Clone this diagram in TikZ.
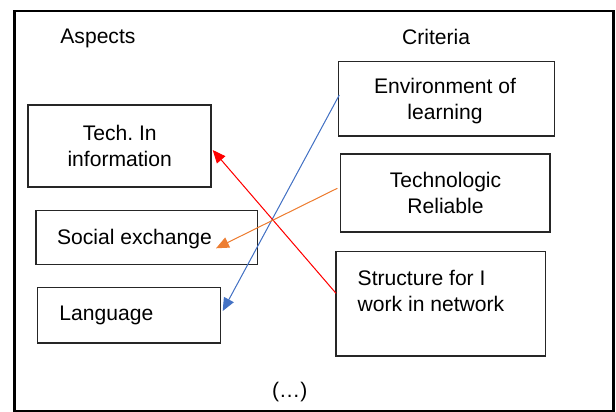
\documentclass[tikz,border=0pt]{standalone}
\usepackage{fontspec}
\setmainfont{Liberation Sans}
\usetikzlibrary{arrows.meta}
\definecolor{lblue}{HTML}{4472C4}
\definecolor{lorange}{HTML}{ED7D31}
\frenchspacing
\begin{document}
\begin{tikzpicture}[x=0.5pt,y=-0.5pt,
  txt/.style={inner sep=0pt, font=\fontsize{10.55}{13.2}\selectfont},
  box/.style n args={2}{draw=black!85, line width=0.6pt, inner sep=0pt,
    minimum width=#1, minimum height=#2},
  frame/.style={draw=black, line width=1.2pt, inner sep=0pt,
    minimum width=299.5pt, minimum height=199.85pt},
  conn/.style={line width=0.5pt, -{Triangle[length=6.5pt,width=5.5pt]}}]
\useasboundingbox (0,0) rectangle (616,412);
% outer frame
\node[frame] (outer) at (313.8,210.85) {};
% headings
\node[txt, anchor=base west] (asp) at (60,43.5) {Aspects};
\node[txt, anchor=base west] (crit) at (401.7,44) {Criteria};
% aspect boxes
\node[box={91.5pt}{41pt}] (tech) at (119.5,146) {};
\node[txt, align=center] (techT) at (119.7,146) {Tech. In\\information};
\node[box={110.85pt}{26.8pt}] (social) at (146.85,237.5) {};
\node[txt, anchor=base west] (socialT) at (56.7,244.3) {Social exchange};
\node[box={91.5pt}{27.65pt}] (lang) at (128.8,315.35) {};
\node[txt, anchor=base west] (langT) at (59,320) {Language};
% criteria boxes
\node[box={107.8pt}{37.15pt}] (env) at (446.5,98.85) {};
\node[txt, align=center] (envT) at (445,101) {Environment of\\learning};
\node[box={104.65pt}{39pt}] (trel) at (445.35,193) {};
\node[txt, align=center] (trelT) at (445.5,193) {Technologic\\Reliable};
\node[box={104.85pt}{52.15pt}] (struct) at (440.85,303.85) {};
\node[txt, anchor=base west] (structA) at (357.3,285) {Structure for I};
\node[txt, anchor=base west] (structB) at (357.3,311) {work in network};
% ellipsis
\node[txt] (dots) at (289.7,392) {(\dots)};
% connector end points
\coordinate (bS) at (339.3,95);
\coordinate (bE) at (222.7,311);
\coordinate (rS) at (336,293.3);
\coordinate (rE) at (212.7,150);
\coordinate (oS) at (337.3,188.3);
\coordinate (oE) at (216,248.3);
% connectors
\draw[conn, draw=lblue, fill=lblue] (bS) -- (bE);
\draw[conn, draw=red, fill=red] (rS) -- (rE);
\draw[conn, draw=lorange, fill=lorange] (oS) -- (oE);
\end{tikzpicture}
\end{document}
